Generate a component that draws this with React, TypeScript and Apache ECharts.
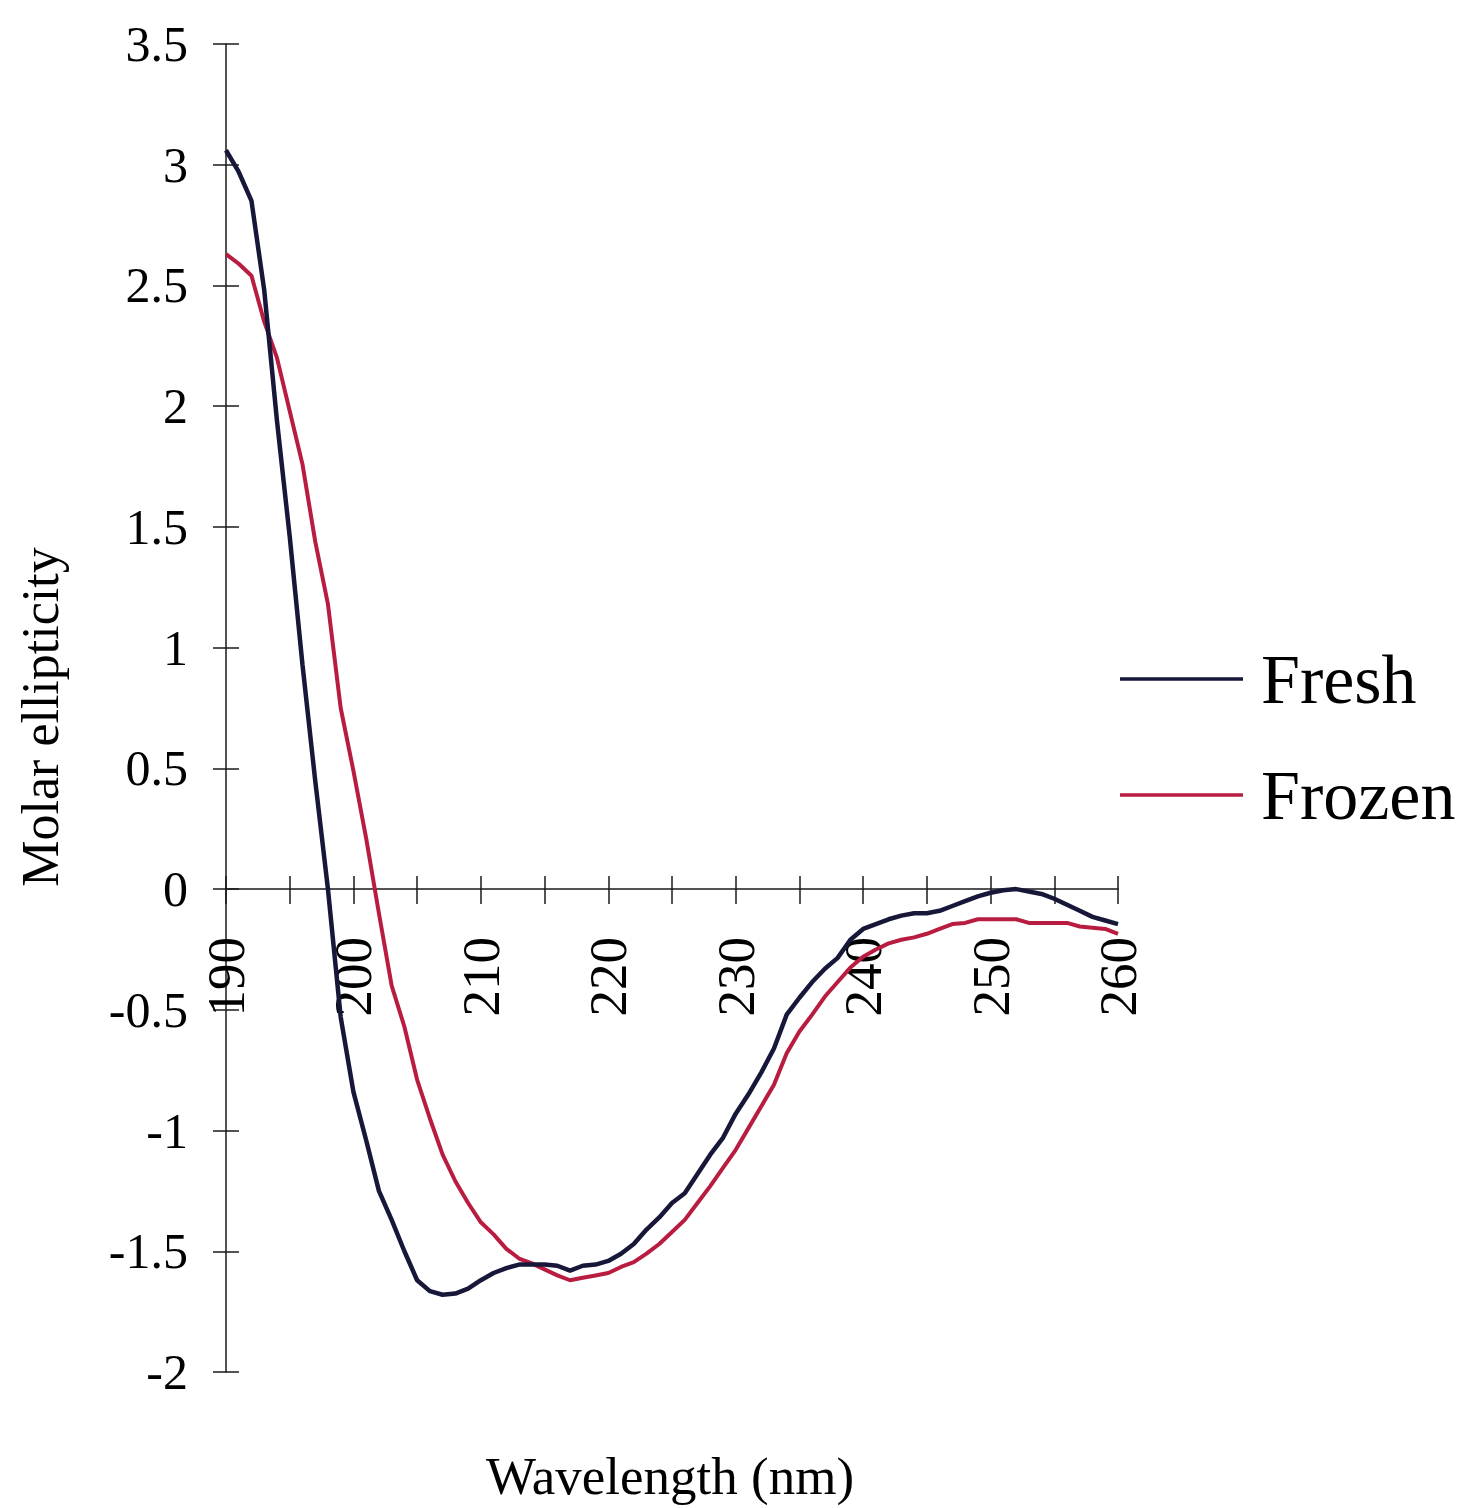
import React, { useEffect, useRef } from "react";
import * as echarts from "echarts";

// Wavelength grid (nm) and molar ellipticity readings for each sample
const wavelengths: number[] = [
  190, 191, 192, 193, 194, 195, 196, 197, 198, 199,
  200, 201, 202, 203, 204, 205, 206, 207, 208, 209,
  210, 211, 212, 213, 214, 215, 216, 217, 218, 219,
  220, 221, 222, 223, 224, 225, 226, 227, 228, 229,
  230, 231, 232, 233, 234, 235, 236, 237, 238, 239,
  240, 241, 242, 243, 244, 245, 246, 247, 248, 249,
  250, 251, 252, 253, 254, 255, 256, 257, 258, 259,
  260,
];

const fresh: number[] = [
  3.06, 2.97, 2.85, 2.48, 1.94, 1.46, 0.93, 0.45, 0.0, -0.53,
  -0.84, -1.04, -1.25, -1.37, -1.5, -1.62, -1.665, -1.68, -1.675, -1.655,
  -1.62, -1.59, -1.57, -1.555, -1.555, -1.555, -1.56, -1.58, -1.56, -1.555,
  -1.54, -1.51, -1.47, -1.41, -1.36, -1.3, -1.26, -1.18, -1.1, -1.03,
  -0.93, -0.85, -0.76, -0.66, -0.52, -0.45, -0.385, -0.33, -0.285, -0.21,
  -0.165, -0.145, -0.125, -0.11, -0.1, -0.1, -0.09, -0.07, -0.05, -0.03,
  -0.015, -0.005, 0.0, -0.01, -0.02, -0.04, -0.065, -0.09, -0.115, -0.13,
  -0.145,
];

const frozen: number[] = [
  2.63, 2.59, 2.54, 2.35, 2.2, 1.98, 1.76, 1.44, 1.18, 0.75,
  0.49, 0.21, -0.1, -0.4, -0.57, -0.79, -0.95, -1.1, -1.21, -1.3,
  -1.38, -1.43, -1.49, -1.53, -1.55, -1.575, -1.6, -1.62, -1.61, -1.6,
  -1.59, -1.565, -1.545, -1.51, -1.47, -1.42, -1.37, -1.3, -1.23, -1.155,
  -1.08, -0.99, -0.9, -0.81, -0.68, -0.59, -0.52, -0.445, -0.385, -0.325,
  -0.28, -0.25, -0.225, -0.21, -0.2, -0.185, -0.165, -0.145, -0.14, -0.125,
  -0.125, -0.125, -0.125, -0.14, -0.14, -0.14, -0.14, -0.155, -0.16, -0.165,
  -0.185,
];

const seriesNames: string[] = ["Fresh", "Frozen"];
const seriesColors: string[] = ["#17173a", "#b81c40"];

const FONT = "'Liberation Serif', 'Times New Roman', serif";

// Axis extents
const X_MIN = 190;
const X_MAX = 260;
const X_STEP = 5;
const Y_MIN = -2;
const Y_MAX = 3.5;
const Y_STEP = 0.5;

// Plot area
const GRID_LEFT = 226;
const GRID_TOP = 44;
const GRID_W = 892;
const GRID_H = 1328;

export default function App() {
  const ref = useRef<HTMLDivElement>(null);

  useEffect(() => {
    if (!ref.current) return;
    const chart = echarts.init(ref.current, undefined, { renderer: "svg" });

    // The wavelength axis runs along y = 0, so shift it up from the grid bottom
    const zeroOffset = -GRID_H * (0 - Y_MIN) / (Y_MAX - Y_MIN);

    const axisColor = "#1a1a1a";
    const lineStyle = { color: axisColor, width: 1.5 };

    const xBase = {
      type: "value" as const,
      min: X_MIN,
      max: X_MAX,
      interval: X_STEP,
      position: "bottom" as const,
      offset: zeroOffset,
      splitLine: { show: false },
    };
    const yBase = {
      type: "value" as const,
      min: Y_MIN,
      max: Y_MAX,
      interval: Y_STEP,
      position: "left" as const,
      splitLine: { show: false },
    };

    chart.setOption({
      animation: false,
      backgroundColor: "#ffffff",
      grid: { left: GRID_LEFT, top: GRID_TOP, width: GRID_W, height: GRID_H },
      xAxis: [
        {
          ...xBase,
          axisLine: { show: true, onZero: false, lineStyle },
          axisTick: { show: true, length: 15, lineStyle },
          axisLabel: {
            rotate: 90,
            margin: 48,
            fontSize: 53,
            fontFamily: FONT,
            color: "#000",
            formatter: (v: number) => (v % 10 === 0 ? String(v) : ""),
          },
        },
        {
          ...xBase,
          axisLine: { show: false, onZero: false },
          axisTick: { show: true, inside: true, length: 13, lineStyle },
          axisLabel: { show: false },
        },
      ],
      yAxis: [
        {
          ...yBase,
          axisLine: { show: true, onZero: false, lineStyle },
          axisTick: { show: true, length: 13, lineStyle },
          axisLabel: {
            margin: 38,
            fontSize: 50,
            fontFamily: FONT,
            color: "#000",
          },
        },
        {
          ...yBase,
          axisLine: { show: false, onZero: false },
          axisTick: { show: true, inside: true, length: 13, lineStyle },
          axisLabel: { show: false },
        },
      ],
      legend: {
        orient: "vertical",
        left: 1115,
        top: 634,
        icon: "rect",
        itemWidth: 123,
        itemHeight: 3.5,
        itemGap: 36,
        selectedMode: false,
        data: seriesNames,
        textStyle: {
          fontSize: 70,
          fontFamily: FONT,
          color: "#000",
          lineHeight: 80,
          padding: [0, 0, 0, 13],
        },
      },
      graphic: [
        {
          type: "text",
          x: 40,
          y: 717,
          rotation: Math.PI / 2,
          style: {
            text: "Molar ellipticity",
            font: `52px ${FONT}`,
            fill: "#000",
            align: "center",
            verticalAlign: "middle",
            textAlign: "center",
            textVerticalAlign: "middle",
          },
        },
        {
          type: "text",
          x: 670,
          y: 1476,
          style: {
            text: "Wavelength (nm)",
            font: `53px ${FONT}`,
            fill: "#000",
            align: "center",
            verticalAlign: "middle",
            textAlign: "center",
            textVerticalAlign: "middle",
          },
        },
      ],
      series: [
        {
          name: seriesNames[1],
          type: "line",
          symbol: "none",
          showSymbol: false,
          color: seriesColors[1],
          lineStyle: { color: seriesColors[1], width: 4 },
          data: wavelengths.map((w, i) => [w, frozen[i]]),
        },
        {
          name: seriesNames[0],
          type: "line",
          symbol: "none",
          showSymbol: false,
          color: seriesColors[0],
          lineStyle: { color: seriesColors[0], width: 4.5 },
          data: wavelengths.map((w, i) => [w, fresh[i]]),
        },
      ],
    });

    return () => chart.dispose();
  }, []);

  return (
    <div
      ref={ref}
      style={{ position: "absolute", left: 0, top: 0, width: 1461, height: 1508 }}
    />
  );
}
